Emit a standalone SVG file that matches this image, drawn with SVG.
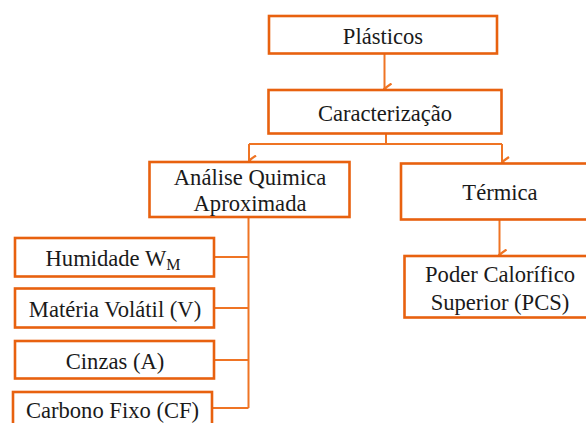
<svg xmlns="http://www.w3.org/2000/svg" width="586" height="423" viewBox="0 0 586 423">
<defs>
<style>
.box{fill:#fff;stroke:#E8610F;stroke-width:2.6}
.t{font-family:"Liberation Serif","Times New Roman",serif;font-size:22.6px;fill:#1a1a1a;text-anchor:middle}
.c{fill:none;stroke:#EF7424;stroke-width:2}
</style>
<marker id="ah" viewBox="0 0 12 12" refX="6" refY="10.5" markerWidth="12" markerHeight="12" markerUnits="userSpaceOnUse" orient="auto-start-reverse">
<path d="M1,3.5 L6,10.5 L11,3.5" fill="none" stroke="#EF7424" stroke-width="2.2"/>
</marker>
</defs>
<rect width="586" height="423" fill="#fff"/>
<g id="connectors">
<line class="c" x1="384.5" y1="53.5" x2="384.5" y2="88.5" marker-end="url(#ah)"/>
<path class="c" d="M386,133.5 V144"/>
<path class="c" d="M249,144 H502"/>
<line class="c" x1="249" y1="144" x2="249" y2="160.5" marker-end="url(#ah)"/>
<line class="c" x1="502" y1="144" x2="502" y2="162" marker-end="url(#ah)"/>
<line class="c" x1="499.5" y1="219.5" x2="499.5" y2="254.5" marker-end="url(#ah)"/>
<path class="c" d="M248.5,217 V408"/>
<path class="c" d="M214,257 H248.5 M214,308 H248.5 M214,360 H248.5 M212,408 H248.5"/>
</g>
<g id="plasticos">
<rect class="box" x="269" y="16" width="228" height="37.5"/>
<text class="t" x="383" y="44">Plásticos</text>
</g>
<g id="caracterizacao">
<rect class="box" x="268.5" y="90" width="233" height="43.5"/>
<text class="t" x="385" y="121">Caracterização</text>
</g>
<g id="analise">
<rect class="box" x="149.5" y="162" width="200" height="55"/>
<text class="t" x="250" y="185">Análise Quimica</text>
<text class="t" x="250" y="211">Aproximada</text>
</g>
<g id="termica">
<rect class="box" x="401" y="163.5" width="200" height="56"/>
<text class="t" x="500" y="200">Térmica</text>
</g>
<g id="pcs">
<rect class="box" x="404.5" y="256" width="200" height="61.5"/>
<text class="t" x="500" y="282">Poder Calorífico</text>
<text class="t" x="500" y="310">Superior (PCS)</text>
</g>
<g id="humidade">
<rect class="box" x="15" y="238" width="199" height="38.5"/>
<text class="t" x="113" y="266">Humidade  W<tspan font-size="16" dy="4">M</tspan></text>
</g>
<g id="materia">
<rect class="box" x="15" y="288.5" width="199" height="39"/>
<text class="t" x="115" y="317">Matéria Volátil (V)</text>
</g>
<g id="cinzas">
<rect class="box" x="15" y="341" width="199" height="37.5"/>
<text class="t" x="115" y="369">Cinzas (A)</text>
</g>
<g id="carbono">
<rect class="box" x="13" y="392" width="199" height="40"/>
<text class="t" x="112.5" y="418">Carbono Fixo (CF)</text>
</g>
</svg>
